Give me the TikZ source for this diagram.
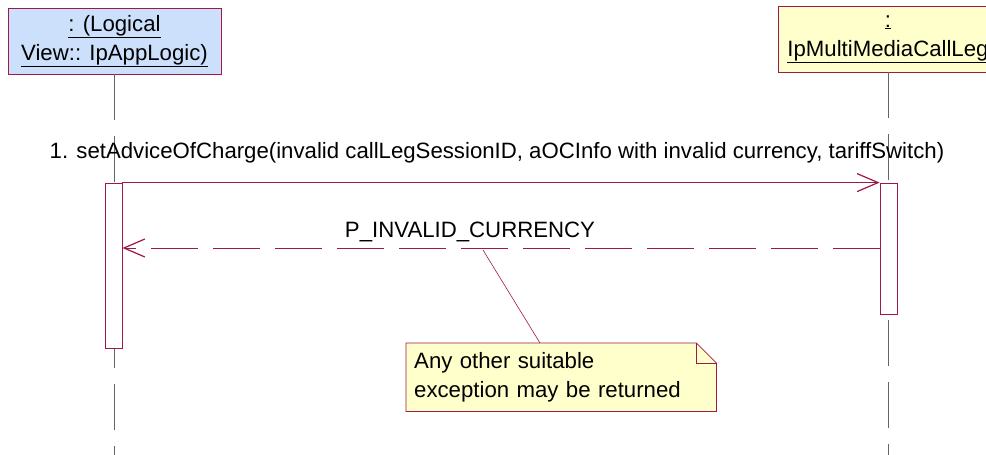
\documentclass[tikz,border=0pt]{standalone}
\usepackage{fontspec}
\setmainfont{Liberation Sans}
\usepackage{xcolor}
\usetikzlibrary{arrows.meta, calc, backgrounds}
\definecolor{umlred}{RGB}{160,24,72}
\definecolor{objblue}{RGB}{204,224,252}
\definecolor{noteyellow}{RGB}{255,255,204}
\definecolor{lifegray}{RGB}{100,100,100}

\begin{document}
\begin{tikzpicture}[x=1pt, y=-1pt,
    every node/.style={font=\fontsize{22.2}{29}\selectfont},
    object/.style={draw=umlred, line width=0.8pt, minimum height=66pt, align=center, inner sep=0pt},
    lifeline/.style={draw=lifegray, line width=0.8pt, dash pattern=on 46pt off 16pt},
    activation/.style={draw=umlred, fill=white, line width=0.8pt, minimum width=17pt, inner sep=0pt},
    call/.style={draw=umlred, line width=0.8pt, -{Straight Barb[length=21pt, width=18pt, line width=1.2pt]}},
    reply/.style={call, dash pattern=on 47pt off 15pt},
    notebox/.style={text width=294pt, align=left, inner xsep=8pt, inner ysep=0pt, minimum height=68pt}]
    \useasboundingbox (0,0) rectangle (986,455);
    \clip (0,0) rectangle (986,455);

    % Objects
    \node[object, fill=objblue, minimum width=213pt] (objL) at (114.5,41)
        {\underline{: (Logical}\\\underline{View:: IpAppLogic)}};
    \node[object, fill=noteyellow, minimum width=220pt] (objR) at (888,39)
        {\underline{:}\\\underline{IpMultiMediaCallLeg}};

    % Lifelines
    \coordinate (endL) at (114,455);
    \coordinate (endR) at (888,455);
    \draw[lifeline] (objL.south -| endL) -- (endL);
    \draw[lifeline] (objR.south -| endR) -- (endR);

    % Activations
    \node[activation, minimum height=165pt] (actL) at (113.5,265.5) {};
    \node[activation, minimum height=131pt] (actR) at (888.5,248.5) {};

    % Call
    \draw[call] (actL.north east) -- (actR.north west);
    \node[anchor=base] (m1) at (497,158)
        {1. setAdviceOfCharge(invalid callLegSessionID, aOCInfo with invalid currency, tariffSwitch)};

    % Reply
    \coordinate (r) at (0,248);
    \draw[reply] (actR.west |- r) -- (actL.east |- r);
    \node[anchor=base] (m2) at (470,237) {P\_INVALID\_CURRENCY};

    % Note
    \node[notebox, anchor=north west] (note) at (406,343)
        {Any other suitable\\exception may be returned};
    \begin{scope}[on background layer]
        \draw[umlred, fill=noteyellow, line width=0.8pt] (note.north west)
            -- ($(note.north east)+(-20,0)$) -- ($(note.north east)+(0,20)$)
            -- (note.south east) -- (note.south west) -- cycle;
    \end{scope}
    \draw[umlred, line width=0.8pt] ($(note.north east)+(-20,0)$) |- ($(note.north east)+(0,20)$);

    % Note link
    \coordinate (tie) at (483,250);
    \draw[umlred, line width=0.6pt] ($(note.north west)+(134,0)$) -- (tie);
\end{tikzpicture}
\end{document}
